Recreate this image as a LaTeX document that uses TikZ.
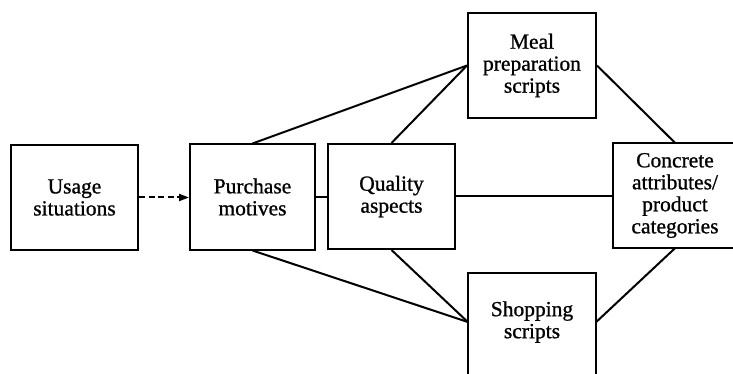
\documentclass[tikz,border=0pt]{standalone}
\usepackage{fontspec}
\setmainfont{Liberation Serif}
\newfontface\heavy{Liberation Serif}[FakeBold=0.9]
\usetikzlibrary{arrows.meta}
\begin{document}
\begin{tikzpicture}[x=1pt,y=-1pt,
  font=\heavy\fontsize{21.5}{22}\selectfont,
  box/.style={draw, line width=2pt, align=center, inner sep=0pt,
    minimum height=105pt},
  label/.style={align=center, inner sep=0pt, minimum height=98pt},
  link/.style={line width=2pt},
  cause/.style={line width=2pt, dash pattern=on 6pt off 3.5pt,
    -{Triangle[length=10pt,width=7pt]}}]
\useasboundingbox (0,0) rectangle (733,374);
\clip (0,0) rectangle (733,374);

% boxes of the central chain
\node[box, minimum width=127pt] (us) at (74.5,197.5) {Usage\\situations};
\node[box, minimum width=125pt] (pm) at (252.5,197) {Purchase\\motives};
\node[box, minimum width=127pt] (qa) at (391.5,196.5) {Quality\\aspects};
\node[box, minimum width=128pt] (meal) at (532,65.5) {Meal\\preparation\\scripts};

% boxes that run past the page edge
\node[label, minimum width=124pt, minimum height=105pt] (ca) at (675,195.5)
  {Concrete\\attributes/\\product\\categories};
\draw[link] (ca.south west) rectangle (ca.north east);
\node[label, minimum width=128pt] (shop) at (532,322) {Shopping\\scripts};
\draw[link] ([yshift=-14pt]shop.south west) rectangle (shop.north east);

% connectors
\draw[cause] (us.east) -- (us.east -| pm.west);
\draw[link] (pm.east) -- (pm.east -| qa.west);
\draw[link] (qa.east) -- (qa.east -| ca.west);
\draw[link] (pm.north) -- (meal.west);
\draw[link] (qa.north) -- (meal.west);
\draw[link] (meal.east) -- (ca.north);
\draw[link] (pm.south) -- (shop.west);
\draw[link] (qa.south) -- (shop.west);
\draw[link] (shop.east) -- (ca.south);
\end{tikzpicture}
\end{document}
